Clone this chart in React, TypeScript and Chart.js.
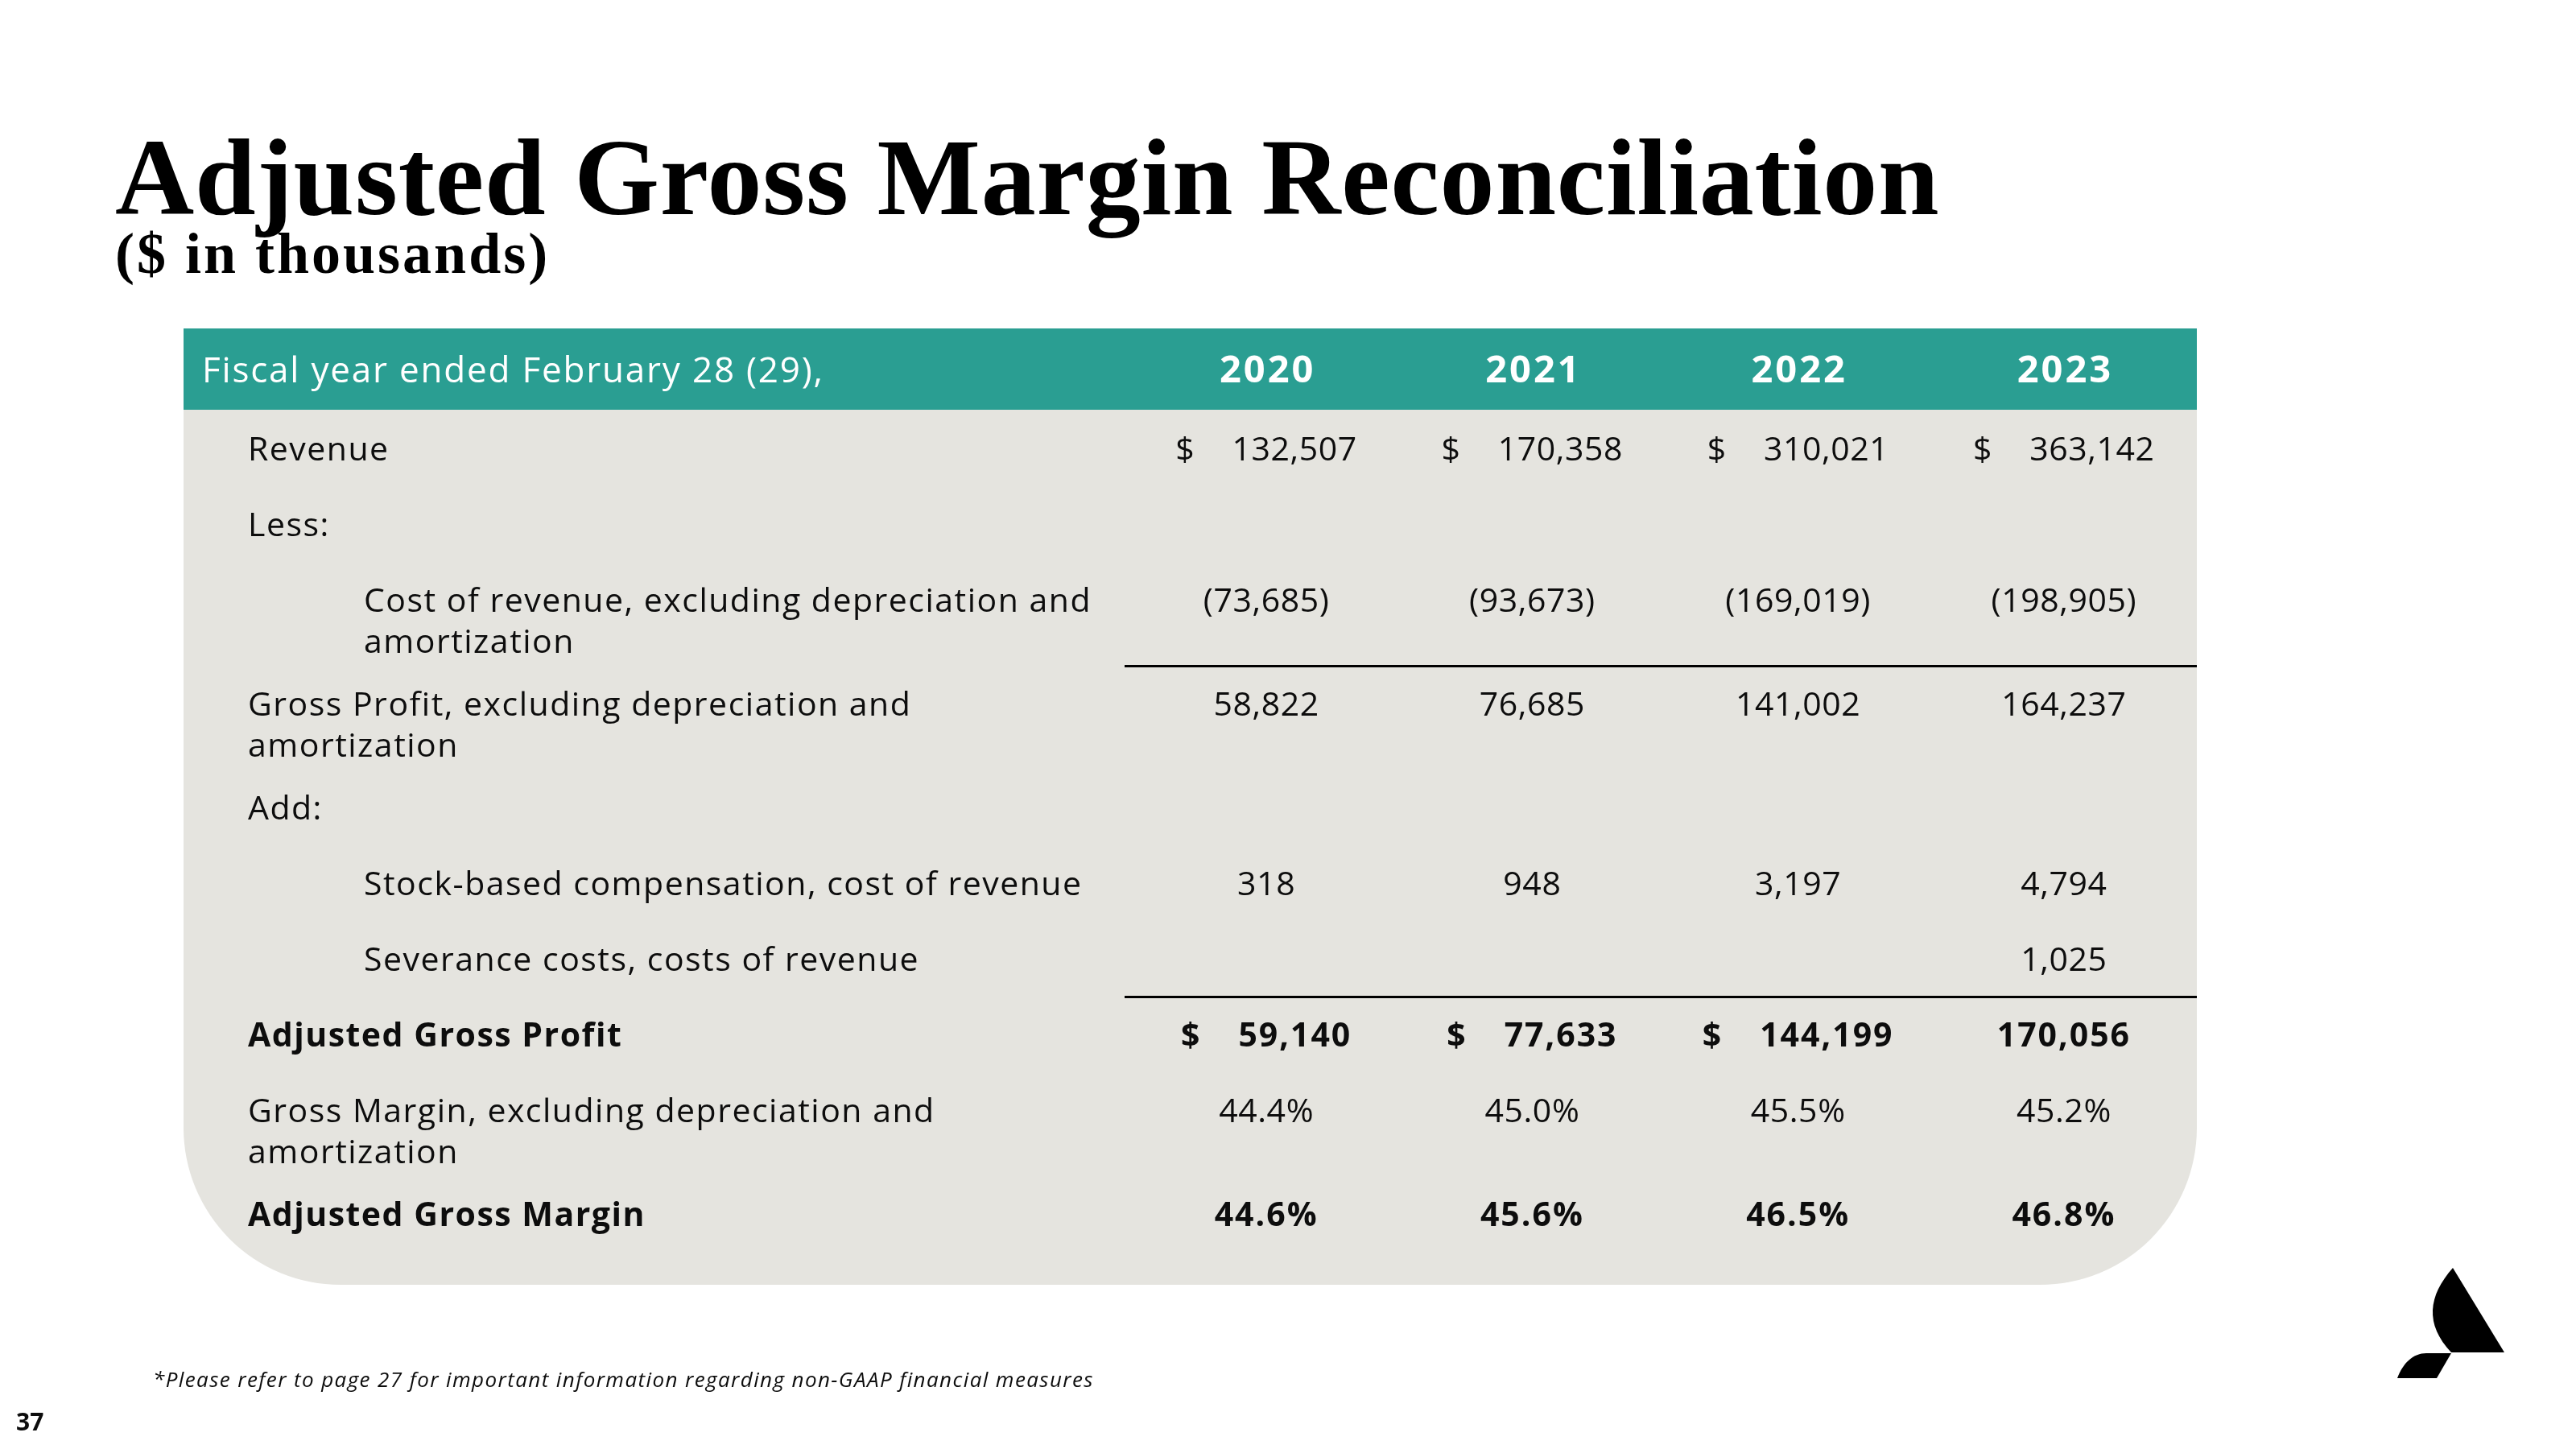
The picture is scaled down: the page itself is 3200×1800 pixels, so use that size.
import React, { useEffect, useRef } from 'react';
import { Chart, registerables } from 'chart.js';

Chart.register(...registerables);

// ---------------- data ----------------
const years = ['2020', '2021', '2022', '2023'];
const headerLabel = 'Fiscal year ended February 28 (29),';
const titleText = 'Adjusted Gross Margin Reconciliation';
const subtitleText = '($ in thousands)';
const footnoteText = '*Please refer to page 27 for important information regarding non-GAAP financial measures';
const pageNumber = '37';

const revenue = [132507, 170358, 310021, 363142];
const costOfRevenue = [-73685, -93673, -169019, -198905];
const grossProfit = [58822, 76685, 141002, 164237];
const stockBasedCompensation = [318, 948, 3197, 4794];
const severanceCosts = [null, null, null, 1025];
const adjustedGrossProfit = [59140, 77633, 144199, 170056];
const grossMargin = [44.4, 45.0, 45.5, 45.2];
const adjustedGrossMargin = [44.6, 45.6, 46.5, 46.8];

const revenueDollar = [true, true, true, true];
const adjustedGrossProfitDollar = [true, true, true, false];

const rowLabels = [
  ['Revenue'],
  ['Less:'],
  ['Cost of revenue, excluding depreciation and', 'amortization'],
  ['Gross Profit, excluding depreciation and', 'amortization'],
  ['Add:'],
  ['Stock-based compensation, cost of revenue'],
  ['Severance costs, costs of revenue'],
  ['Adjusted Gross Profit'],
  ['Gross Margin, excluding depreciation and', 'amortization'],
  ['Adjusted Gross Margin'],
];
const rowValues = [revenue, null, costOfRevenue, grossProfit, null, stockBasedCompensation, severanceCosts, adjustedGrossProfit, grossMargin, adjustedGrossMargin];
const rowFormats = ['usd', '', 'num', 'num', '', 'num', 'num', 'usd', 'pct', 'pct'];
const rowDollar = [revenueDollar, null, null, null, null, null, null, adjustedGrossProfitDollar, null, null];

// ---------------- styles ----------------
const rowIndent = [0, 0, 1, 0, 0, 1, 1, 0, 0, 0];
const rowBold = [false, false, false, false, false, false, false, true, false, true];
const separatorBeforeRows = [3, 7];

const FONT = '"Open Sans"';
const SERIF = '"Liberation Serif"';
const TEAL = '#2a9e92';
const BODY_BG = '#e5e4df';
const TEXT = '#0d0d0d';
const TABLE_LEFT = 228;
const HEADER_H = 101;
const CORNER = 195;
const INDENT_X = [308, 452];
const LINE_STEP_PX = 51;
const EXTRA_LINE_UNITS = 0.372;
const BODY_SIZE = 41;
const DOLLAR_GAP = 46;

const font = (size: number, weight = 'normal', style = 'normal', fam = FONT) => `${style} ${weight} ${size}px ${fam}`;

function rowPositions(): number[] {
  const pos: number[] = [];
  let p = 0;
  rowLabels.forEach((lines, i) => {
    if (i > 0) p += 1 + EXTRA_LINE_UNITS * (rowLabels[i - 1].length - 1);
    pos.push(p);
  });
  return pos;
}

function fmtNum(v: number, kind: string): string {
  if (kind === 'pct') return v.toFixed(1) + '%';
  const s = Math.abs(v).toLocaleString('en-US');
  return v < 0 ? '(' + s + ')' : s;
}

function setSpacing(ctx: any, px: number) {
  if ('letterSpacing' in ctx) ctx.letterSpacing = px + 'px';
}

const tablePlugin = {
  id: 'tablePlugin',
  beforeDraw(chart: any) {
    const { ctx, chartArea: ca, scales } = chart;
    const xs = scales.x;
    const ys = scales.y;
    const pos: number[] = chart.options.plugins.tablePlugin.pos;
    ctx.save();
    ctx.fillStyle = '#ffffff';
    ctx.fillRect(0, 0, chart.width, chart.height);

    // title
    ctx.fillStyle = '#000';
    ctx.textAlign = 'left';
    ctx.textBaseline = 'alphabetic';
    ctx.font = font(136, 'bold', 'normal', SERIF);
    setSpacing(ctx, 0.8);
    ctx.fillText(titleText, 143, 266);
    ctx.font = font(72, 'bold', 'normal', SERIF);
    setSpacing(ctx, 3);
    ctx.fillText(subtitleText, 143, 339);

    // body background with rounded bottom corners
    ctx.fillStyle = BODY_BG;
    ctx.beginPath();
    ctx.roundRect(TABLE_LEFT, ca.top, ca.right - TABLE_LEFT, ca.bottom - ca.top, [0, 0, CORNER, CORNER]);
    ctx.fill();

    // header band
    ctx.fillStyle = TEAL;
    ctx.fillRect(TABLE_LEFT, ca.top - HEADER_H, ca.right - TABLE_LEFT, HEADER_H);
    ctx.fillStyle = '#ffffff';
    ctx.font = font(44);
    setSpacing(ctx, 1.8);
    ctx.fillText(headerLabel, TABLE_LEFT + 23, ca.top - 34);
    ctx.textAlign = 'center';
    ctx.font = font(47, 'bold');
    setSpacing(ctx, 3);
    years.forEach((yr, j) => ctx.fillText(yr, xs.getPixelForValue(j) + 1.5, ca.top - 34));

    // row labels
    ctx.fillStyle = TEXT;
    ctx.textAlign = 'left';
    setSpacing(ctx, 1.5);
    rowLabels.forEach((lines, r) => {
      ctx.font = font(BODY_SIZE, rowBold[r] ? 'bold' : 'normal');
      const y0 = ys.getPixelForValue(pos[r]);
      lines.forEach((ln, k) => ctx.fillText(ln, INDENT_X[rowIndent[r]], y0 + k * LINE_STEP_PX));
    });

    // separator rules
    ctx.strokeStyle = '#000';
    ctx.lineWidth = 3;
    separatorBeforeRows.forEach((r) => {
      const y = Math.round(ys.getPixelForValue(pos[r] - 0.66)) + 0.5;
      ctx.beginPath();
      ctx.moveTo(ca.left - 11, y);
      ctx.lineTo(ca.right, y);
      ctx.stroke();
    });

    // footnote and page number
    ctx.font = font(26, 'normal', 'italic');
    setSpacing(ctx, 1.4);
    ctx.fillText(footnoteText, 190, 1723);
    ctx.font = font(30, 'bold');
    setSpacing(ctx, 0);
    ctx.fillText(pageNumber, 20, 1777);
    ctx.restore();
  },
  afterDatasetsDraw(chart: any) {
    const { ctx } = chart;
    ctx.save();
    ctx.fillStyle = TEXT;
    ctx.textBaseline = 'alphabetic';
    chart.data.datasets.forEach((ds: any, di: number) => {
      const meta = chart.getDatasetMeta(di);
      ctx.font = font(BODY_SIZE, ds.bold ? 'bold' : 'normal');
      setSpacing(ctx, ds.bold ? 2 : 0.6);
      meta.data.forEach((el: any, j: number) => {
        const v = ds.values[j];
        if (v == null) return;
        const txt = fmtNum(v, ds.fmt);
        if (ds.dollar && ds.dollar[j]) {
          const w1 = ctx.measureText('$').width;
          const w2 = ctx.measureText(txt).width;
          const start = el.x - (w1 + DOLLAR_GAP + w2) / 2;
          ctx.textAlign = 'left';
          ctx.fillText('$', start, el.y);
          ctx.fillText(txt, start + w1 + DOLLAR_GAP, el.y);
        } else {
          ctx.textAlign = 'center';
          ctx.fillText(txt, el.x, el.y);
        }
      });
    });
    ctx.restore();
  },
  afterDraw(chart: any) {
    // logo mark
    const { ctx } = chart;
    ctx.save();
    ctx.fillStyle = '#000';
    ctx.beginPath();
    ctx.moveTo(3047, 1575);
    ctx.lineTo(3111, 1680);
    ctx.lineTo(3045, 1680);
    ctx.bezierCurveTo(3012, 1645, 3016, 1610, 3047, 1575);
    ctx.closePath();
    ctx.fill();
    ctx.beginPath();
    ctx.moveTo(3045, 1681);
    ctx.lineTo(3027, 1712);
    ctx.lineTo(2978, 1712);
    ctx.bezierCurveTo(2985, 1693, 2998, 1681, 3014, 1681);
    ctx.closePath();
    ctx.fill();
    ctx.restore();
  },
};

export default function App() {
  const ref = useRef<HTMLCanvasElement | null>(null);
  useEffect(() => {
    document.body.style.margin = '0';
    const canvas = ref.current;
    if (!canvas) return;
    const pos = rowPositions();
    const datasets: any[] = [];
    rowValues.forEach((vals, r) => {
      if (!vals) return;
      datasets.push({
        label: rowLabels[r].join(' '),
        data: years.map((_, j) => (vals[j] == null ? null : pos[r])),
        values: vals,
        fmt: rowFormats[r],
        dollar: rowDollar[r],
        bold: rowBold[r],
        pointRadius: 0,
        pointHoverRadius: 0,
        showLine: false,
        borderWidth: 0,
      });
    });
    const chart = new Chart(canvas, {
      type: 'line',
      data: { labels: years, datasets },
      options: {
        responsive: false,
        devicePixelRatio: 1,
        animation: false,
        events: [],
        layout: { padding: { left: 1408, right: 471, top: 509, bottom: 204 } },
        scales: {
          x: { type: 'category', offset: true, display: false },
          y: { type: 'linear', reverse: true, min: -0.67, max: 10.89, display: false },
        },
        plugins: {
          legend: { display: false },
          tooltip: { enabled: false },
          tablePlugin: { pos },
        } as any,
      },
      plugins: [tablePlugin],
    });
    return () => chart.destroy();
  }, []);
  return (
    <div style={{ position: 'fixed', left: 0, top: 0, width: 3200, height: 1800, background: '#fff' }}>
      <canvas ref={ref} width={3200} height={1800} style={{ width: 3200, height: 1800, display: 'block' }} />
    </div>
  );
}
